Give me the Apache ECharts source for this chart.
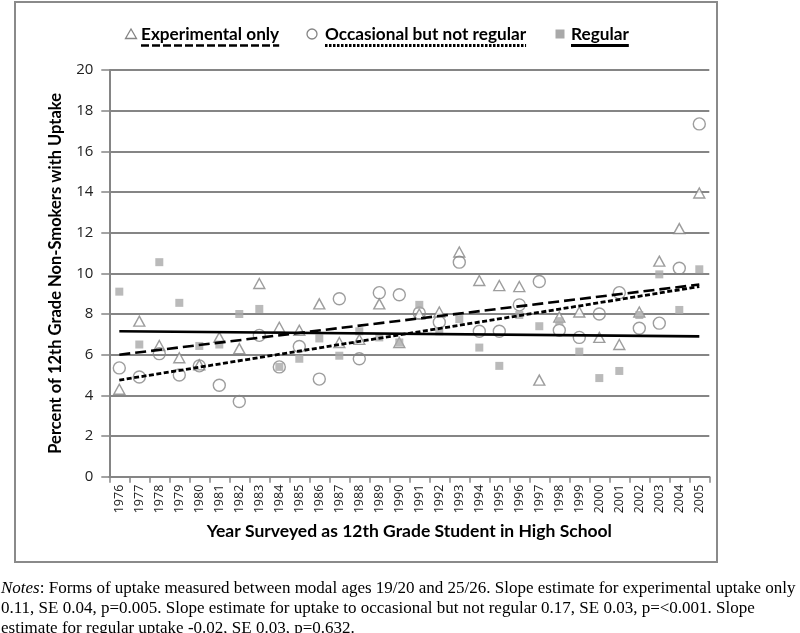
<!DOCTYPE html>
<html><head><meta charset="utf-8">
<script src="https://cdn.jsdelivr.net/npm/echarts@6/dist/echarts.min.js"></script>
<style>html,body{margin:0;padding:0;background:#fff}#c{width:800px;height:633px}</style>
</head><body><div id="c"></div>
<script>
const years = ['1976','1977','1978','1979','1980','1981','1982','1983','1984','1985',
  '1986','1987','1988','1989','1990','1991','1992','1993','1994','1995',
  '1996','1997','1998','1999','2000','2001','2002','2003','2004','2005'];
const seriesNames = ['Experimental only', 'Occasional but not regular', 'Regular'];
const experimental = [4.3, 7.65, 6.45, 5.85, 5.5, 6.85, 6.3, 9.5, 7.35, 7.2,
  8.5, 6.6, 6.75, 8.5, 6.6, 8.0, 8.1, 11.05, 9.65, 9.4,
  9.35, 4.75, 7.85, 8.1, 6.85, 6.5, 8.1, 10.6, 12.2, 13.95];
const occasional = [5.35, 4.9, 6.05, 5.0, 5.45, 4.5, 3.7, 6.95, 5.4, 6.4,
  4.8, 8.75, 5.8, 9.05, 8.95, 8.05, 7.6, 10.55, 7.15, 7.15,
  8.45, 9.6, 7.2, 6.85, 8.0, 9.05, 7.3, 7.55, 10.25, 17.35];
const regular = [9.1, 6.5, 10.55, 8.55, 6.43, 6.5, 8.0, 8.25, 5.4, 5.8,
  6.8, 5.95, 7.15, 6.85, 6.6, 8.45, 7.15, 7.75, 6.35, 5.45,
  7.95, 7.4, 7.65, 6.15, 4.85, 5.2, 7.95, 9.95, 8.2, 10.2];
// trend lines (value at first and last year)
const trendStart = [6.0, 4.75, 7.15];
const trendEnd = [9.45, 9.35, 6.9];
const yMin = 0, yMax = 20, yStep = 2;
const xTitle = 'Year Surveyed as 12th Grade Student in High School';
const yTitle = 'Percent of 12th Grade Non-Smokers with Uptake';
const notesLines = [
  '{i|Notes}: Forms of uptake measured between modal ages 19/20 and 25/26. Slope estimate for experimental uptake only',
  '0.11, SE 0.04, p=0.005. Slope estimate for uptake to occasional but not regular 0.17, SE 0.03, p=<0.001. Slope',
  'estimate for regular uptake -0.02, SE 0.03, p=0.632.'
];

const chart = echarts.init(document.getElementById('c'), null, {renderer: 'canvas'});
const GRAY = '#858585';
const FILL = '#a9a9a9';
const legendFont = 'bold 17.2px Lato';

function measure(t, font) {
  const c = document.createElement('canvas').getContext('2d');
  c.font = font; return c.measureText(t).width;
}

const legendItems = [
  {x: 131, textX: 141, dash: [8, 3], width: 2.4, icon: 'tri'},
  {x: 312, textX: 325, dash: [2.5, 1.5], width: 2.8, icon: 'circ'},
  {x: 560, textX: 571, dash: null, width: 2.8, icon: 'rect'}
];
const LY = 34;
const graphics = [];
graphics.push({type: 'rect', shape: {x: 15, y: 2, width: 702, height: 560}, style: {fill: 'none', stroke: '#8a8a8a', lineWidth: 2}, z: -1, silent: true});
legendItems.forEach((it, i) => {
  const w = measure(seriesNames[i], legendFont);
  if (it.icon === 'tri') graphics.push({type: 'polygon', shape: {points: [[it.x, LY - 5], [it.x - 5.5, LY + 4.5], [it.x + 5.5, LY + 4.5]]}, style: {fill: '#fff', stroke: GRAY, lineWidth: 1.3}});
  if (it.icon === 'circ') graphics.push({type: 'circle', shape: {cx: it.x, cy: LY, r: 5}, style: {fill: '#fff', stroke: GRAY, lineWidth: 1.3}});
  if (it.icon === 'rect') graphics.push({type: 'rect', shape: {x: it.x - 4.5, y: LY - 4.5, width: 9, height: 9}, style: {fill: FILL}});
  graphics.push({type: 'text', x: it.textX, y: LY, style: {text: seriesNames[i], font: legendFont, fill: '#000', textVerticalAlign: 'middle', verticalAlign: 'middle'}});
  graphics.push({type: 'line', shape: {x1: it.textX, y1: 45.5, x2: it.textX + w, y2: 45.5}, style: {stroke: '#000', lineWidth: it.width, lineDash: it.dash || null}});
});
graphics.push({type: 'text', x: 1, y: 579, style: {text: notesLines.join('\n'), font: '17px "Liberation Serif"', fill: '#000', lineHeight: 19.7,
  rich: {i: {fontStyle: 'italic', fontFamily: 'Liberation Serif', fontSize: 17}}}});

const markerSeries = [
  {name: seriesNames[0], data: experimental, symbol: 'triangle', symbolSize: [11, 10], itemStyle: {color: '#fff', borderColor: GRAY, borderWidth: 1.4}},
  {name: seriesNames[1], data: occasional, symbol: 'circle', symbolSize: 12, itemStyle: {color: 'rgba(255,255,255,0)', borderColor: GRAY, borderWidth: 1.4}},
  {name: seriesNames[2], data: regular, symbol: 'rect', symbolSize: 8, itemStyle: {color: FILL}}
];
const trendStyles = [
  {type: [11, 5], width: 2.6},
  {type: [5, 2.5], width: 2.8},
  {type: 'solid', width: 2.6}
];

const series = [];
[2, 0, 1].forEach(i => {
  const s = markerSeries[i];
  series.push(Object.assign({type: 'scatter', z: 2 + i, silent: true}, s));
});
[0, 1, 2].forEach(i => {
  series.push({type: 'line', name: seriesNames[i] + ' trend', silent: true, symbol: 'none', z: 5,
    data: [[years[0], trendStart[i]], [years[years.length - 1], trendEnd[i]]],
    lineStyle: {color: '#000', width: trendStyles[i].width, type: trendStyles[i].type}});
});

chart.setOption({
  animation: false,
  backgroundColor: '#fff',
  grid: {left: 109.3, right: 90.7, top: 70, bottom: 156.3, containLabel: false},
  xAxis: {
    type: 'category', data: years, boundaryGap: true,
    axisLine: {show: true, lineStyle: {color: GRAY, width: 2}},
    axisTick: {show: true, alignWithLabel: false, length: 6, lineStyle: {color: GRAY, width: 1.5}},
    axisLabel: {rotate: 90, fontFamily: 'Open Sans', fontSize: 12.5, color: '#222', margin: 8, interval: 0},
    name: xTitle, nameLocation: 'middle', nameGap: 46,
    nameTextStyle: {fontFamily: 'Lato', fontWeight: 'bold', fontSize: 17.5, color: '#000'}
  },
  yAxis: {
    type: 'value', min: yMin, max: yMax, interval: yStep,
    axisLine: {show: true, lineStyle: {color: GRAY, width: 2}},
    axisTick: {show: true, inside: false, length: 8, lineStyle: {color: GRAY, width: 1.5}},
    axisLabel: {fontFamily: 'Open Sans', fontSize: 15, color: '#222', margin: 16},
    splitLine: {show: true, lineStyle: {color: GRAY, width: 2}},
    name: yTitle, nameLocation: 'middle', nameGap: 45, nameRotate: 90,
    nameTextStyle: {fontFamily: 'Lato', fontWeight: 'bold', fontSize: 16.5, color: '#000'}
  },
  series: series,
  graphic: graphics
});
</script></body></html>
